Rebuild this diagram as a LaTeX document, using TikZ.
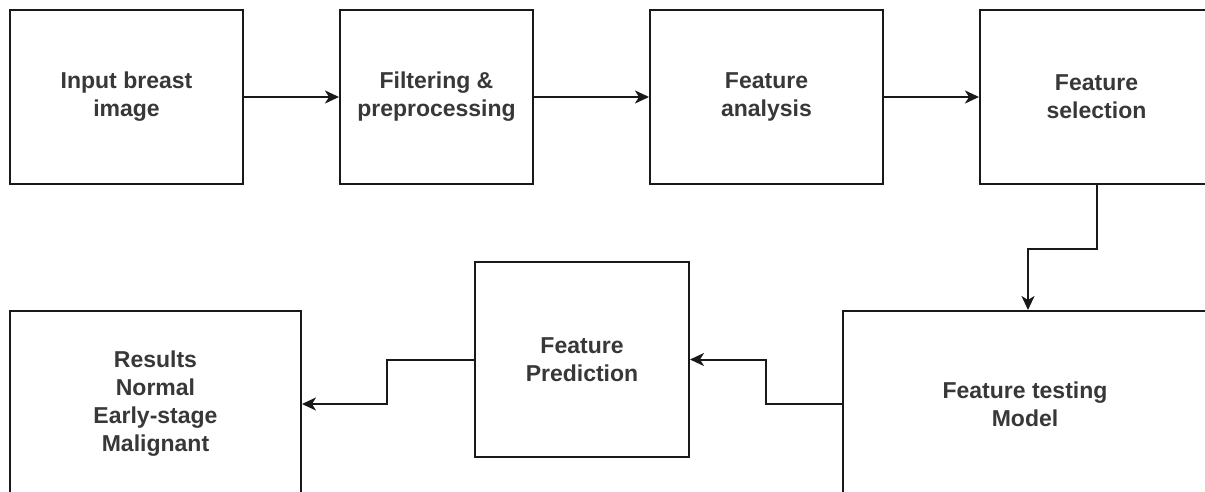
\documentclass[tikz,border=0pt]{standalone}
\usepackage{fontspec}
\newfontfamily\lblfont{Liberation Sans}
\usetikzlibrary{arrows.meta}
\tikzset{
  stage/.style={draw=black!90, line width=2pt, fill=white, rectangle,
    inner sep=0pt, align=center, text=black!78,
    font=\lblfont\bfseries\fontsize{23}{28}\selectfont},
  arr/.style={draw=black!90, line width=2pt,
    -{Stealth[length=14pt,width=13pt,inset=4pt]}}
}
\begin{document}
\begin{tikzpicture}[x=1pt,y=-1pt]
  \useasboundingbox (0,0) rectangle (1205,492);
  \clip (0,0) rectangle (1205,492);
  \fill[white] (0,0) rectangle (1205,492);

  % top row
  \node[stage, minimum width=233pt, minimum height=174pt] (input) at (126.5,97) {Input breast\\image};
  \node[stage, minimum width=193pt, minimum height=174pt] (filter) at (436.5,97) {Filtering \&\\preprocessing};
  \node[stage, minimum width=233pt, minimum height=174pt] (analysis) at (766.5,97) {Feature\\analysis};
  \node[stage, minimum width=233pt, minimum height=174pt] (select) at (1096.5,97) {Feature\\selection};

  % bottom row
  \node[stage, minimum width=364pt, minimum height=186pt] (test) at (1025,404) {Feature testing\\Model};
  \node[stage, minimum width=214pt, minimum height=195pt] (pred) at (582,359.5) {Feature\\Prediction};
  \node[stage, minimum width=291pt, minimum height=186pt] (res) at (155.5,404) {Results\\Normal\\Early-stage\\Malignant};

  % connectors
  \draw[arr] (input.east) -- (filter.west);
  \draw[arr] (filter.east) -- (analysis.west);
  \draw[arr] (analysis.east) -- (select.west);
  \draw[arr] (select.south) -- ++(0,63.5) -| ([xshift=3pt]test.north);
  \draw[arr] (test.west) -- ++(-76,0) |- (pred.east);
  \draw[arr] (pred.west) -- ++(-87,0) |- (res.east);
\end{tikzpicture}
\end{document}
